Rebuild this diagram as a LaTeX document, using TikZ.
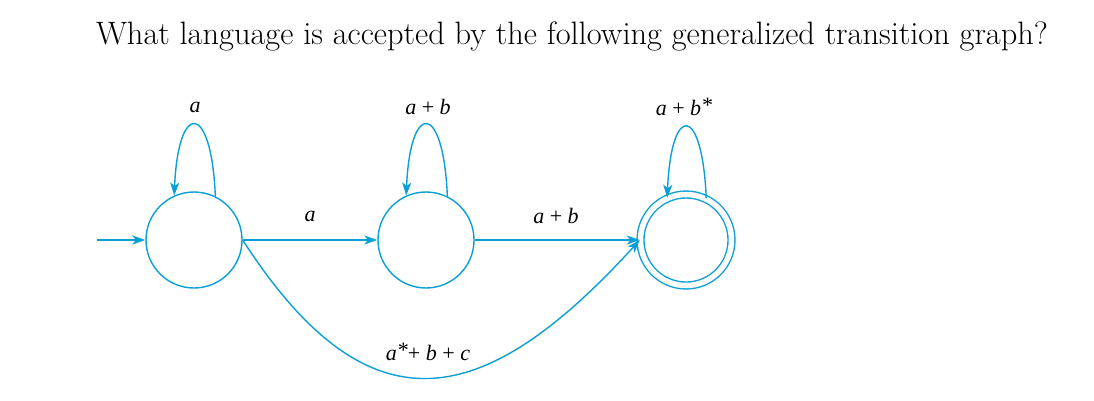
\documentclass[tikz,border=0pt]{standalone}
\usepackage{fontspec}
\newfontfamily\labfont{Liberation Serif}
\usetikzlibrary{arrows.meta}
\definecolor{edgeblue}{RGB}{10,160,215}
\begin{document}
\begin{tikzpicture}[x=1pt,y=-1pt,
  state/.style={circle,draw=edgeblue,line width=1.4pt,minimum size=96pt,inner sep=0pt},
  accept/.style={state,double=white,double distance=5.5pt,line width=1.4pt,minimum size=91pt},
  edge/.style={draw=edgeblue,line width=1.4pt,-{Stealth[length=13pt,width=9pt,inset=3.5pt]}},
  lab/.style={font=\labfont\fontsize{22}{26}\selectfont,inner sep=0pt}
]
\useasboundingbox (0,0) rectangle (1094,400);
\node[font=\fontsize{32.4}{38}\selectfont,anchor=base] (title) at (572,44) {What language is accepted by the following generalized transition graph?};
\node[state] (q0) at (194,240) {};
\node[state] (q1) at (426,240) {};
\node[accept] (q2) at (686,240) {};
\coordinate (start) at (97,240);
\draw[edge] (start) -- (q0);
\draw[edge] (q0) -- (q1);
\draw[edge] (q1) -- (q2);
\draw[edge] (q0.east) .. controls (369,436) and (484,411) .. (q2.west);
\draw[edge] (q0.64) .. controls +(-4,-95) and +(4,-95) .. (q0.114);
\draw[edge] (q1.64) .. controls +(-4,-95) and +(4,-95) .. (q1.114);
\draw[edge] (q2.64) .. controls +(-4,-95) and +(4,-95) .. (q2.114);
\node[lab] (l0) at (195,107) {\itshape a};
\node[lab] (l1) at (428,107) {\itshape a\/ \upshape+ \itshape b};
\node[lab] (l2) at (684,107) {\itshape a\/ \upshape+ \itshape b\raisebox{.12em}{*}};
\node[lab] (l01) at (310,216) {\itshape a};
\node[lab] (l12) at (556,216) {\itshape a\/ \upshape+ \itshape b};
\node[lab] (l02) at (428,352) {\itshape a\raisebox{.12em}{*}\upshape+ \itshape b\/ \upshape+ \itshape c};
\end{tikzpicture}
\end{document}
